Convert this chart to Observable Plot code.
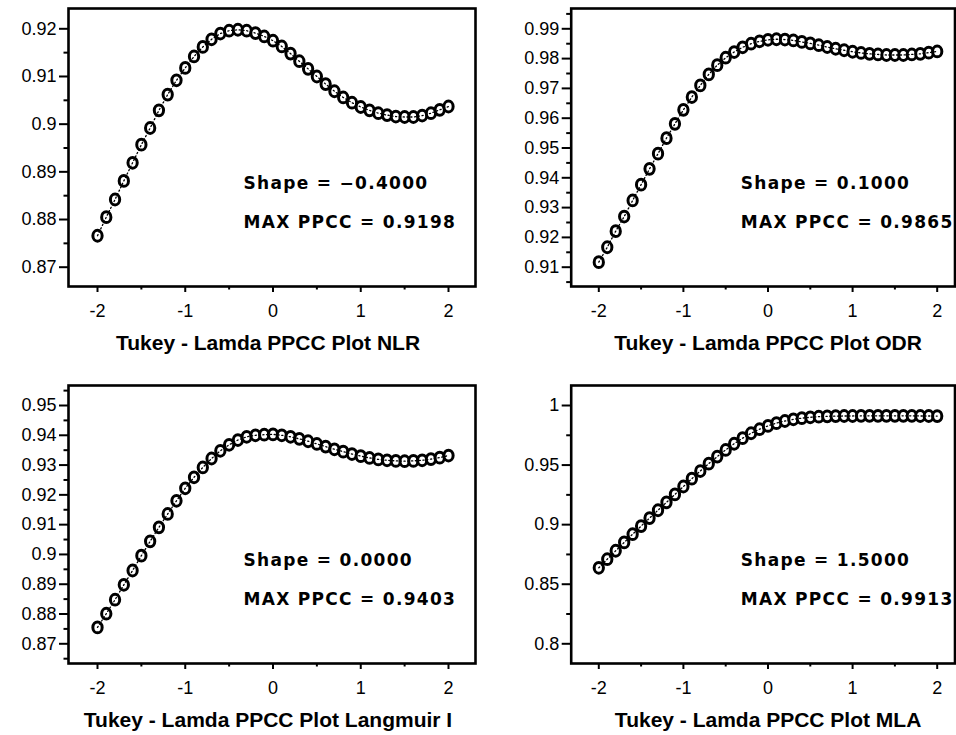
<!DOCTYPE html>
<html><head><meta charset="utf-8">
<script src="https://cdn.jsdelivr.net/npm/d3@7"></script>
<script src="https://cdn.jsdelivr.net/npm/@observablehq/plot@0.6"></script>
<style>
body{margin:0;background:#fff;}
#wrap{position:relative;width:956px;height:735px;background:#fff;overflow:hidden;}
#wrap > svg{position:absolute;overflow:visible;}
</style></head><body><div id="wrap"></div>
<script>
// Tukey-lambda shape parameter grid
const lambda = [-2.0,-1.9,-1.8,-1.7,-1.6,-1.5,-1.4,-1.3,-1.2,-1.1,-1.0,-0.9,-0.8,-0.7,-0.6,-0.5,-0.4,-0.3,-0.2,-0.1,0.0,
  0.1,0.2,0.3,0.4,0.5,0.6,0.7,0.8,0.9,1.0,1.1,1.2,1.3,1.4,1.5,1.6,1.7,1.8,1.9,2.0];

// PPCC values
const ppccNLR = [0.8766,0.8805,0.8842,0.8881,0.8919,0.8957,0.8992,0.9029,0.9062,0.9092,0.9118,0.9142,0.9162,0.9178,0.9190,0.9196,0.9198,0.9196,0.9191,0.9184,0.9175,
  0.9163,0.9148,0.9132,0.9116,0.9100,0.9084,0.9069,0.9056,0.9045,0.9036,0.9029,0.9023,0.9019,0.9016,0.9015,0.9015,0.9018,0.9023,0.9030,0.9037];
const ppccODR = [0.9117,0.9167,0.9221,0.9270,0.9324,0.9377,0.9430,0.9481,0.9533,0.9581,0.9628,0.9671,0.9710,0.9747,0.9778,0.9803,0.9822,0.9838,0.9850,0.9858,0.9863,
  0.9865,0.9864,0.9861,0.9856,0.9851,0.9845,0.9839,0.9833,0.9828,0.9823,0.9819,0.9816,0.9814,0.9812,0.9812,0.9812,0.9814,0.9816,0.9820,0.9824];
const ppccLangmuir = [0.8755,0.8801,0.8848,0.8898,0.8946,0.8996,0.9044,0.9091,0.9136,0.9180,0.9222,0.9259,0.9292,0.9322,0.9348,0.9368,0.9384,0.9395,0.9400,0.9402,0.9403,
  0.9400,0.9395,0.9388,0.9380,0.9371,0.9362,0.9353,0.9345,0.9337,0.9330,0.9324,0.9319,0.9316,0.9314,0.9313,0.9314,0.9316,0.9320,0.9325,0.9332];
const ppccMLA = [0.8638,0.8710,0.8781,0.8851,0.8920,0.8988,0.9055,0.9121,0.9187,0.9254,0.9320,0.9386,0.9450,0.9512,0.9571,0.9627,0.9679,0.9726,0.9767,0.9801,0.9829,
  0.9852,0.9870,0.9884,0.9894,0.9901,0.9906,0.9909,0.9911,0.9912,0.9912,0.9913,0.9913,0.9913,0.9913,0.9913,0.9913,0.9913,0.9912,0.9912,0.9911];

const titles = ["Tukey - Lamda PPCC Plot NLR","Tukey - Lamda PPCC Plot ODR","Tukey - Lamda PPCC Plot Langmuir I","Tukey - Lamda PPCC Plot MLA"];
const shapeText = ["Shape = −0.4000","Shape = 0.1000","Shape = 0.0000","Shape = 1.5000"];
const maxText = ["MAX PPCC = 0.9198","MAX PPCC = 0.9865","MAX PPCC = 0.9403","MAX PPCC = 0.9913"];

const xMajor = [-2,-1,0,1,2];
const xMinor = [-1.5,-0.5,0.5,1.5];
const yMajorNLR = [0.87,0.88,0.89,0.90,0.91,0.92];
const yMinorNLR = [0.875,0.885,0.895,0.905,0.915];
const yMajorODR = [0.91,0.92,0.93,0.94,0.95,0.96,0.97,0.98,0.99];
const yMinorODR = [0.905,0.915,0.925,0.935,0.945,0.955,0.965,0.975,0.985,0.995];
const yMajorLang = [0.87,0.88,0.89,0.90,0.91,0.92,0.93,0.94,0.95];
const yMinorLang = [0.865,0.875,0.885,0.895,0.905,0.915,0.925,0.935,0.945,0.955];
const yMajorMLA = [0.8,0.85,0.9,0.95,1.0];
const yMinorMLA = [0.825,0.875,0.925,0.975];

const series = [ppccNLR, ppccODR, ppccLangmuir, ppccMLA];
const yMajors = [yMajorNLR, yMajorODR, yMajorLang, yMajorMLA];
const yMinors = [yMinorNLR, yMinorODR, yMinorLang, yMinorMLA];

// layout options (per panel)
const layout = [
  {left:0,   top:0,   width:480, mL:68,   mR:5,   mT:8,  mB:79, xd:[-2.3305,2.3077], yd:[0.865952,0.924258], tdx:175,   titleDx:-4},
  {left:480, top:0,   width:476, mL:90.7, mR:1.5, mT:8,  mB:79, xd:[-2.3262,2.2104], yd:[0.903523,0.996812], tdx:169.6, titleDx:5},
  {left:0,   top:370, width:480, mL:68,   mR:5,   mT:15, mB:72, xd:[-2.3305,2.3077], yd:[0.863386,0.956714], tdx:175,   titleDx:-4},
  {left:480, top:370, width:476, mL:90.7, mR:1.5, mT:15, mB:72, xd:[-2.3262,2.2104], yd:[0.783466,1.016786], tdx:169.6, titleDx:5}
];

// slightly tall elliptical marker
const ellipse = {
  draw(ctx, size) {
    const ry = Math.sqrt(size / Math.PI), rx = ry * 0.86, k = 0.5523;
    ctx.moveTo(rx, 0);
    ctx.bezierCurveTo(rx, k*ry, k*rx, ry, 0, ry);
    ctx.bezierCurveTo(-k*rx, ry, -rx, k*ry, -rx, 0);
    ctx.bezierCurveTo(-rx, -k*ry, -k*rx, -ry, 0, -ry);
    ctx.bezierCurveTo(k*rx, -ry, rx, -k*ry, rx, 0);
    ctx.closePath();
  }
};

const fmt = d => String(+d.toFixed(3));
const wrap = document.getElementById("wrap");
const sans = "Liberation Sans, Arial, Helvetica, sans-serif";
const boxy = "DejaVu Sans, Verdana, sans-serif";

series.forEach((vals, i) => {
  const L = layout[i];
  const data = lambda.map((x, j) => ({lambda: x, ppcc: vals[j]}));
  const svg = Plot.plot({
    width: L.width, height: 365,
    marginLeft: L.mL, marginRight: L.mR, marginTop: L.mT, marginBottom: L.mB,
    style: {fontFamily: sans, fontSize: "18px", color: "black", background: "white", overflow: "visible"},
    x: {domain: L.xd},
    y: {domain: L.yd},
    marks: [
      Plot.axisY({ticks: yMajors[i], tickSize: 9, tickPadding: 3, tickFormat: fmt, strokeWidth: 2, fontSize: 18, label: null}),
      Plot.axisY({ticks: yMinors[i], tickSize: 4.5, tickFormat: () => "", strokeWidth: 2, label: null}),
      Plot.axisX({ticks: xMajor, tickSize: 6, tickPadding: 12, tickFormat: fmt, strokeWidth: 2, fontSize: 18, label: null}),
      Plot.axisX({ticks: xMinor, tickSize: 3.5, tickFormat: () => "", strokeWidth: 2, label: null}),
      Plot.frame({stroke: "black", strokeWidth: 2.6}),
      Plot.dot(data, {x: "lambda", y: "ppcc", r: 5.4, symbol: ellipse, fill: "white", stroke: "black", strokeWidth: 3}),
      Plot.line(data, {x: "lambda", y: "ppcc", stroke: "black", strokeWidth: 1.3, strokeDasharray: "1.2,2.6"}),
      Plot.text([shapeText[i]], {frameAnchor: "top-left", dx: L.tdx, dy: 175, text: d => d, textAnchor: "start", lineAnchor: "middle",
        fontFamily: boxy, fontWeight: "bold", fontSize: 17, fill: "black"}),
      Plot.text([maxText[i]], {frameAnchor: "top-left", dx: L.tdx, dy: 214.3, text: d => d, textAnchor: "start", lineAnchor: "middle",
        fontFamily: boxy, fontWeight: "bold", fontSize: 17, fill: "black"}),
      Plot.text([titles[i]], {frameAnchor: "bottom", dx: L.titleDx, dy: 57, text: d => d, lineAnchor: "middle",
        fontFamily: sans, fontWeight: "bold", fontSize: 21, fill: "black"})
    ]
  });
  svg.style.left = L.left + "px";
  svg.style.top = L.top + "px";
  d3.select(svg).selectAll("text")
    .filter(function() { const t = this.textContent; return t.startsWith("Shape") || t.startsWith("MAX"); })
    .style("letter-spacing", "1.3px");
  wrap.appendChild(svg);
});
</script></body></html>
